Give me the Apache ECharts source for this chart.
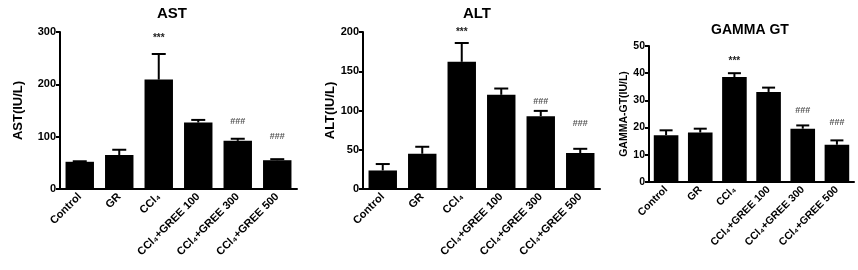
<!DOCTYPE html>
<html>
<head>
<meta charset="utf-8">
<script src="https://cdn.jsdelivr.net/npm/echarts@6/dist/echarts.min.js"></script>
<style>
html,body{margin:0;padding:0;background:#fff;}
#c{width:858px;height:270px;}
</style>
</head>
<body>
<div id="c"></div>
<script>
const categories = ['Control', 'GR', 'CCl₄', 'CCl₄+GREE 100', 'CCl₄+GREE 300', 'CCl₄+GREE 500'];

const astMean  = [52, 65, 209, 127, 92, 55];
const astUpper = [53, 75, 258, 132, 96, 57];
const astMarks = ['', '', '***', '', '###', '###'];
const astMarkY = [null, null, 288, null, 129, 100];

const altMean  = [23.6, 44.9, 162, 120, 92.8, 45.8];
const altUpper = [31.8, 53.8, 186, 128, 99.5, 51.2];
const altMarks = ['', '', '***', '', '###', '###'];
const altMarkY = [null, null, 200, null, 112, 84];

const ggtMean  = [17.2, 18.2, 38.6, 33.1, 19.6, 13.7];
const ggtUpper = [19, 19.6, 40, 34.7, 20.8, 15.3];
const ggtMarks = ['', '', '***', '', '###', '###'];
const ggtMarkY = [null, null, 44.4, null, 26.1, 21.7];

const FONT = 'Liberation Sans, Arial, sans-serif';

function errData(mean, upper) {
  return mean.map((m, i) => [i, m, upper[i]]);
}
function markData(marks, ys) {
  const out = [];
  marks.forEach((t, i) => { if (t) out.push([i, ys[i], t]); });
  return out;
}
function errSeries(idx, mean, upper, cap) {
  return {
    type: 'custom', xAxisIndex: idx, yAxisIndex: idx, z: 5,
    data: errData(mean, upper),
    renderItem: function (params, api) {
      const p1 = api.coord([api.value(0), api.value(1)]);
      const p2 = api.coord([api.value(0), api.value(2)]);
      const h = cap / 2;
      return { type: 'group', children: [
        { type: 'line', shape: { x1: p1[0], y1: p1[1], x2: p2[0], y2: p2[1] }, style: { stroke: '#000', lineWidth: 2 } },
        { type: 'line', shape: { x1: p2[0] - h, y1: p2[1], x2: p2[0] + h, y2: p2[1] }, style: { stroke: '#000', lineWidth: 2 } }
      ]};
    }
  };
}
function markSeries(idx, marks, ys) {
  return {
    type: 'custom', xAxisIndex: idx, yAxisIndex: idx, z: 6, clip: false,
    data: markData(marks, ys),
    renderItem: function (params, api) {
      const p = api.coord([api.value(0), api.value(1)]);
      const txt = markData(marks, ys)[params.dataIndex][2];
      const star = txt === '***';
      return { type: 'text', x: p[0], y: p[1], style: {
        text: txt, align: 'center', verticalAlign: 'middle',
        font: (star ? 'bold 10px ' : 'bold 9px ') + FONT,
        fill: star ? '#222' : '#555'
      }};
    }
  };
}
function xAx(idx, fs) {
  return {
    type: 'category', gridIndex: idx, data: categories,
    axisLine: { lineStyle: { color: '#000', width: 2 } },
    axisTick: { alignWithLabel: true, length: 4, lineStyle: { color: '#000', width: 2 } },
    axisLabel: { rotate: 45, interval: 0, margin: 6, color: '#000', fontWeight: 'bold', fontSize: fs, fontFamily: FONT }
  };
}
function yAx(idx, max, interval, name, nameGap, nameSize, labelSize) {
  return {
    type: 'value', gridIndex: idx, min: 0, max: max, interval: interval,
    name: name, nameLocation: 'middle', nameGap: nameGap,
    nameTextStyle: { color: '#000', fontWeight: 'bold', fontSize: nameSize, fontFamily: FONT },
    axisLine: { show: true, lineStyle: { color: '#000', width: 2 } },
    axisTick: { show: true, length: 4, lineStyle: { color: '#000', width: 2 } },
    splitLine: { show: false },
    axisLabel: { margin: 4, color: '#000', fontWeight: 'bold', fontSize: labelSize, fontFamily: FONT }
  };
}
function barSeries(idx, data) {
  return {
    type: 'bar', xAxisIndex: idx, yAxisIndex: idx, data: data,
    barCategoryGap: '28%', itemStyle: { color: '#000' }, z: 4
  };
}

const chart = echarts.init(document.getElementById('c'), null, { renderer: 'canvas' });
chart.setOption({
  animation: false,
  backgroundColor: '#fff',
  title: [
    { text: 'AST', left: 167, top: 1, textAlign: 'center', textStyle: { fontWeight: 'bold', fontSize: 15, color: '#000', fontFamily: FONT } },
    { text: 'ALT', left: 472, top: 1, textAlign: 'center', textStyle: { fontWeight: 'bold', fontSize: 15, color: '#000', fontFamily: FONT } },
    { text: 'GAMMA GT', left: 745, top: 18, textAlign: 'center', textStyle: { fontWeight: 'bold', fontSize: 14, color: '#000', fontFamily: FONT } }
  ],
  grid: [
    { left: 60, top: 32, width: 237, height: 157 },
    { left: 363, top: 32, width: 237, height: 157 },
    { left: 649, top: 46, width: 205, height: 136 }
  ],
  xAxis: [xAx(0, 11), xAx(1, 11), xAx(2, 10.5)],
  yAxis: [
    yAx(0, 300, 100, 'AST(IU/L)', 35, 13, 11),
    yAx(1, 200, 50, 'ALT(IU/L)', 25, 13, 11),
    yAx(2, 50, 10, 'GAMMA-GT(IU/L)', 19, 10.5, 10.5)
  ],
  series: [
    barSeries(0, astMean), errSeries(0, astMean, astUpper, 14), markSeries(0, astMarks, astMarkY),
    barSeries(1, altMean), errSeries(1, altMean, altUpper, 14), markSeries(1, altMarks, altMarkY),
    barSeries(2, ggtMean), errSeries(2, ggtMean, ggtUpper, 13), markSeries(2, ggtMarks, ggtMarkY)
  ]
});
</script>
</body>
</html>
